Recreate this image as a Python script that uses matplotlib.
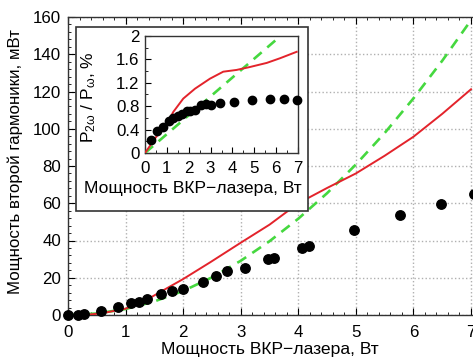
import matplotlib
matplotlib.use("Agg")
import matplotlib.pyplot as plt
from matplotlib.patches import Rectangle
from matplotlib.ticker import MultipleLocator

plt.rcParams['font.family'] = ['Liberation Sans', 'DejaVu Sans']
plt.rcParams['mathtext.fontset'] = 'custom'
plt.rcParams['mathtext.rm'] = 'Liberation Sans'
plt.rcParams['mathtext.it'] = 'Liberation Sans'

# Main plot: second-harmonic power vs Raman laser power
main_x = [0.0, 0.17, 0.28, 0.57, 0.86, 1.09, 1.24, 1.37, 1.61, 1.81, 1.99,
          2.35, 2.57, 2.77, 3.07, 3.48, 3.57, 4.07, 4.18, 4.97, 5.77, 6.48, 7.05]
main_y = [0.0, 0.2, 0.5, 2.3, 4.1, 6.3, 7.2, 8.8, 11.1, 13.0, 14.1,
          17.5, 20.9, 23.4, 25.4, 30.1, 30.4, 35.8, 37.0, 45.6, 53.5, 59.6, 64.8]

red_x = [0.3, 0.6, 1.0, 1.3, 1.6, 2.0, 2.47, 3.0, 3.5, 4.0, 4.5, 5.0, 5.5, 6.0, 6.5, 7.0]
red_y = [0.0, 1.0, 3.4, 7.0, 12.3, 19.3, 28.3, 38.8, 48.5, 60.0, 68.2, 76.0,
         85.5, 95.7, 108.0, 121.2]

green_x = [0.0, 0.5, 1.0, 1.5, 2.0, 2.5, 3.0, 3.5, 4.0, 4.5, 5.0, 5.5, 6.0, 6.5, 7.0]
green_y = [0.0, 0.8, 3.2, 7.3, 12.9, 20.2, 29.1, 39.6, 51.7, 65.4, 80.8, 97.7,
           116.3, 136.5, 158.3]

# Inset: conversion efficiency
ins_x = [0.27, 0.53, 0.84, 1.11, 1.29, 1.49, 1.68, 1.90, 2.05, 2.29, 2.56, 2.77,
         3.00, 3.43, 4.07, 4.91, 5.72, 6.36, 6.97]
ins_y = [0.22, 0.38, 0.45, 0.55, 0.59, 0.63, 0.66, 0.71, 0.72, 0.73, 0.82, 0.83,
         0.82, 0.86, 0.88, 0.90, 0.915, 0.915, 0.90]

ins_red_x = [0.0, 0.5, 1.0, 1.29, 1.75, 2.29, 2.97, 3.58, 4.19, 4.8, 5.57, 6.18, 6.94]
ins_red_y = [0.0, 0.27, 0.50, 0.70, 0.93, 1.10, 1.27, 1.39, 1.42, 1.47, 1.54, 1.62, 1.73]

ins_green_x = [0.0, 6.2]
ins_green_y = [0.0, 2.0]

main_yticks = [0, 20, 40, 60, 80, 100, 120, 140, 160]
main_xticks = [0, 1, 2, 3, 4, 5, 6, 7]
ins_yticks = [0, 0.4, 0.8, 1.2, 1.6, 2.0]
ins_yticklabels = ['0', '0.4', '0.8', '1.2', '1.6', '2']
ins_xticks = [0, 1, 2, 3, 4, 5, 6, 7]

RED = '#e3232b'
GREEN = '#45d83f'
xlabel = 'Мощность ВКР\u2212лазера, Вт'
TICK_FS = 12.2
LABEL_FS = 12.6

W, H = 473, 361
fig = plt.figure(figsize=(W / 100, H / 100), dpi=100)

# main axes run off the right edge of the figure
ax = fig.add_axes([68 / W, 1 - 315 / H, 431.8 / W, 298 / H])
ax.set_xlim(0, 7.5)
ax.set_ylim(0, 160)
ax.grid(True, which='major', color='#b0b0b0', linestyle=':', linewidth=1.0)
ax.set_axisbelow(True)

ax.plot(green_x, green_y, color=GREEN, lw=1.9, dashes=(4, 2.8), zorder=3)
ax.plot(red_x, red_y, color=RED, lw=1.4, zorder=4)
ax.plot(main_x, main_y, 'o', color='black', ms=6.8, zorder=5, clip_on=False)

ax.set_xticks(main_xticks)
ax.set_yticks(main_yticks)
ax.xaxis.set_minor_locator(MultipleLocator(0.2))
ax.yaxis.set_minor_locator(MultipleLocator(4))
ax.tick_params(which='both', direction='in', top=True, right=True,
               labelsize=TICK_FS, colors='black')
ax.tick_params(which='major', length=5, width=0.8)
ax.tick_params(axis='x', which='major', pad=7)
ax.tick_params(axis='y', which='major', pad=5)
ax.tick_params(which='minor', length=2.5, width=0.6)
for s in ax.spines.values():
    s.set_linewidth(1.0)
    s.set_color('#333333')

ax.set_xlabel(xlabel, fontsize=LABEL_FS)
ax.xaxis.set_label_coords((270 - 68) / 431.8, -0.092)
ax.set_ylabel('Мощность второй гармоники, мВт', fontsize=12.2)
ax.yaxis.set_label_coords(-0.105, 0.515)

# white framed box holding the inset
box = Rectangle((76 / W, 1 - 211 / H), 232 / W, 184 / H, transform=fig.transFigure,
                facecolor='white', edgecolor='#333333', lw=1.2, zorder=10)
fig.patches.append(box)

ins = fig.add_axes([145 / W, 1 - 153 / H, 153 / W, 117 / H])
ins.set_zorder(11)
ins.set_xlim(0, 7)
ins.set_ylim(0, 2)
ins.plot(ins_green_x, ins_green_y, color=GREEN, lw=1.9, dashes=(4, 2.8), zorder=3)
ins.plot(ins_red_x, ins_red_y, color=RED, lw=1.4, zorder=4)
ins.plot(ins_x, ins_y, 'o', color='black', ms=6.0, zorder=5, clip_on=False)

ins.set_xticks(ins_xticks)
ins.set_yticks(ins_yticks)
ins.set_yticklabels(ins_yticklabels)
ins.xaxis.set_minor_locator(MultipleLocator(0.5))
ins.yaxis.set_minor_locator(MultipleLocator(0.2))
ins.tick_params(which='both', direction='in', labelsize=TICK_FS)
ins.tick_params(which='major', length=4, width=0.8)
ins.tick_params(axis='x', which='major', pad=6)
ins.tick_params(axis='y', which='major', pad=4)
ins.tick_params(which='minor', length=2.5, width=0.6)
for s in ins.spines.values():
    s.set_linewidth(1.0)
    s.set_color('#333333')
ins.set_xlabel(xlabel, fontsize=LABEL_FS)
ins.xaxis.set_label_coords((193 - 145) / 153, -0.24)
ins.set_ylabel('P$_{\\mathrm{2ω}}$ / P$_{\\mathrm{ω}}$, %', fontsize=LABEL_FS)
ins.yaxis.set_label_coords(-0.31, 0.48)

fig.savefig('out.png', dpi=100)
